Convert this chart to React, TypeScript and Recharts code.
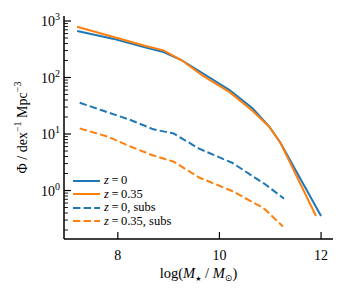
import { Legend, Line, LineChart, XAxis, YAxis } from "recharts";

// log10 of stellar mass, and number density Phi [dex^-1 Mpc^-3]
const massZ0 = [7.2, 7.9, 8.55, 8.9, 9.25, 9.67, 10.2, 10.65, 10.98, 11.2, 12.0];
const phiZ0 = [665, 487, 338, 283, 204, 119, 60, 28.5, 13.5, 7.0, 0.354];

const massZ035 = [7.2, 7.9, 8.55, 8.9, 9.25, 9.67, 10.2, 10.65, 10.98, 11.2, 11.9];
const phiZ035 = [790, 527, 361, 302, 204, 108, 55, 25.7, 13.5, 7.0, 0.354];

const massZ0Subs = [7.25, 7.7, 8.25, 8.7, 9.1, 9.6, 10.25, 10.9, 11.27];
const phiZ0Subs = [35.8, 26, 17.7, 12.1, 10.2, 5.5, 3.1, 1.29, 0.72];

const massZ035Subs = [7.25, 7.8, 8.25, 8.67, 9.1, 9.6, 10.25, 10.8, 10.9, 11.25];
const phiZ035Subs = [12.6, 9.0, 6.0, 4.25, 3.24, 1.7, 0.98, 0.53, 0.46, 0.23];

const xTicks = [8, 10, 12];
const yMajorTicks = [1, 10, 100, 1000];
const yMinorTicks = [0.1, 1, 10, 100].flatMap((d) => [2, 3, 4, 5, 6, 7, 8, 9].map((m) => +(m * d).toPrecision(2)));

const FONT = "'Liberation Serif', 'DejaVu Serif', serif";
const BLUE = "#1f77b4";
const ORANGE = "#ff7f0e";
const DASH = "7.4 3.2";

// plot frame in page pixels (fixed by the margins / axis sizes below)
const PLOT = { left: 64, right: 333, top: 16, bottom: 239 };

const toPoints = (xs: number[], ys: number[]) => xs.map((x, i) => ({ x, y: ys[i] }));

const series = [
	{ key: "z0", z: "0", suffix: "", color: BLUE, dash: undefined, data: toPoints(massZ0, phiZ0) },
	{ key: "z035", z: "0.35", suffix: "", color: ORANGE, dash: undefined, data: toPoints(massZ035, phiZ035) },
	{ key: "z0s", z: "0", suffix: ", subs", color: BLUE, dash: DASH, data: toPoints(massZ0Subs, phiZ0Subs) },
	{ key: "z035s", z: "0.35", suffix: ", subs", color: ORANGE, dash: DASH, data: toPoints(massZ035Subs, phiZ035Subs) },
];

const isMajor = (v: number) => yMajorTicks.includes(v);

function LeftTick({ y, payload }: any) {
	const major = isMajor(payload.value);
	return (
		<g>
			<line
				x1={PLOT.left}
				x2={PLOT.left + (major ? 7 : 4)}
				y1={y}
				y2={y}
				stroke="#000"
				strokeWidth={major ? 1.2 : 0.9}
			/>
			{major && (
				<text x={60} y={y + 5} textAnchor="end" fontFamily={FONT} fontSize={14} fill="#000">
					10
					<tspan dy={-6} fontSize={10}>
						{Math.round(Math.log10(payload.value))}
					</tspan>
				</text>
			)}
		</g>
	);
}

function RightTick({ y, payload }: any) {
	const major = isMajor(payload.value);
	return (
		<line
			x1={PLOT.right}
			x2={PLOT.right - (major ? 7 : 4)}
			y1={y}
			y2={y}
			stroke="#000"
			strokeWidth={major ? 1.2 : 0.9}
		/>
	);
}

function BottomTick({ x, payload }: any) {
	return (
		<g>
			<line x1={x} x2={x} y1={PLOT.bottom} y2={PLOT.bottom - 7} stroke="#000" strokeWidth={1.2} />
			<text x={x} y={260} textAnchor="middle" fontFamily={FONT} fontSize={14} fill="#000">
				{payload.value}
			</text>
		</g>
	);
}

function TopTick({ x }: any) {
	return <line x1={x} x2={x} y1={PLOT.top} y2={PLOT.top + 7} stroke="#000" strokeWidth={1.2} />;
}

function XLabel() {
	return (
		<text x={(PLOT.left + PLOT.right) / 2} y={278} textAnchor="middle" fontFamily={FONT} fontSize={14.5} fill="#000">
			log(
			<tspan fontStyle="italic">M</tspan>
			<tspan dy={3} fontSize={7} fontFamily="'DejaVu Sans', sans-serif">★</tspan>
			<tspan dy={-3}> / </tspan>
			<tspan fontStyle="italic">M</tspan>
			<tspan dy={3} fontSize={9} fontFamily="'DejaVu Sans', sans-serif">⊙</tspan>
			<tspan dy={-3}>)</tspan>
		</text>
	);
}

function YLabel() {
	const cx = 27;
	const cy = (PLOT.top + PLOT.bottom) / 2;
	return (
		<text
			x={cx}
			y={cy}
			transform={`rotate(-90, ${cx}, ${cy})`}
			textAnchor="middle"
			fontFamily={FONT}
			fontSize={14}
			fill="#000"
		>
			Φ / dex
			<tspan dy={-6} fontSize={10}>−1</tspan>
			<tspan dy={6}> Mpc</tspan>
			<tspan dy={-6} fontSize={10}>−3</tspan>
		</text>
	);
}

function LegendBox() {
	return (
		<div style={{ fontFamily: FONT, fontSize: 12.5, color: "#000" }}>
			{series.map((s) => (
				<div key={s.key} style={{ display: "flex", alignItems: "center", height: 13.5 }}>
					<svg width={27} height={4} style={{ display: "block" }}>
						<line x1={0} x2={27} y1={2} y2={2} stroke={s.color} strokeWidth={2} strokeDasharray={s.dash} />
					</svg>
					<span style={{ marginLeft: 4, whiteSpace: "nowrap" }}>
						<i>z</i>
						{"\u2009=\u2009"}
						{s.z}
						{s.suffix}
					</span>
				</div>
			))}
		</div>
	);
}

export default function App() {
	return (
		<div style={{ position: "absolute", left: 0, top: 0, width: 350, height: 300, background: "#fff" }}>
			<LineChart width={350} height={300} margin={{ top: 16, right: 17, bottom: 0, left: 0 }}>
				<XAxis
					xAxisId="b"
					type="number"
					dataKey="x"
					domain={[6.941, 12.235]}
					allowDataOverflow
					ticks={xTicks}
					interval={0}
					height={61}
					axisLine={{ stroke: "#000", strokeWidth: 1.5 }}
					tickLine={false}
					tick={<BottomTick />}
					label={() => <XLabel />}
				/>
				<XAxis
					xAxisId="t"
					orientation="top"
					type="number"
					dataKey="x"
					domain={[6.941, 12.235]}
					allowDataOverflow
					ticks={xTicks}
					interval={0}
					height={0}
					axisLine={{ stroke: "#000", strokeWidth: 1.5 }}
					tickLine={false}
					tick={<TopTick />}
				/>
				<YAxis
					yAxisId="l"
					type="number"
					scale="log"
					domain={[0.1387, 1226]}
					allowDataOverflow
					ticks={[...yMajorTicks, ...yMinorTicks]}
					interval={0}
					width={64}
					axisLine={{ stroke: "#000", strokeWidth: 1.5 }}
					tickLine={false}
					tick={<LeftTick />}
					label={() => <YLabel />}
				/>
				<YAxis
					yAxisId="r"
					orientation="right"
					type="number"
					scale="log"
					domain={[0.1387, 1226]}
					allowDataOverflow
					ticks={[...yMajorTicks, ...yMinorTicks]}
					interval={0}
					width={0}
					axisLine={{ stroke: "#000", strokeWidth: 1.5 }}
					tickLine={false}
					tick={<RightTick />}
				/>
				{series.map((s) => (
					<Line
						key={s.key}
						xAxisId="b"
						yAxisId="l"
						data={s.data}
						dataKey="y"
						type="linear"
						stroke={s.color}
						strokeWidth={2}
						strokeDasharray={s.dash}
						dot={false}
						activeDot={false}
						isAnimationActive={false}
					/>
				))}
				<Legend
					layout="horizontal"
					verticalAlign="middle"
					align="center"
					wrapperStyle={{ left: 73, top: 174, width: 120 }}
					content={() => <LegendBox />}
				/>
			</LineChart>
		</div>
	);
}
